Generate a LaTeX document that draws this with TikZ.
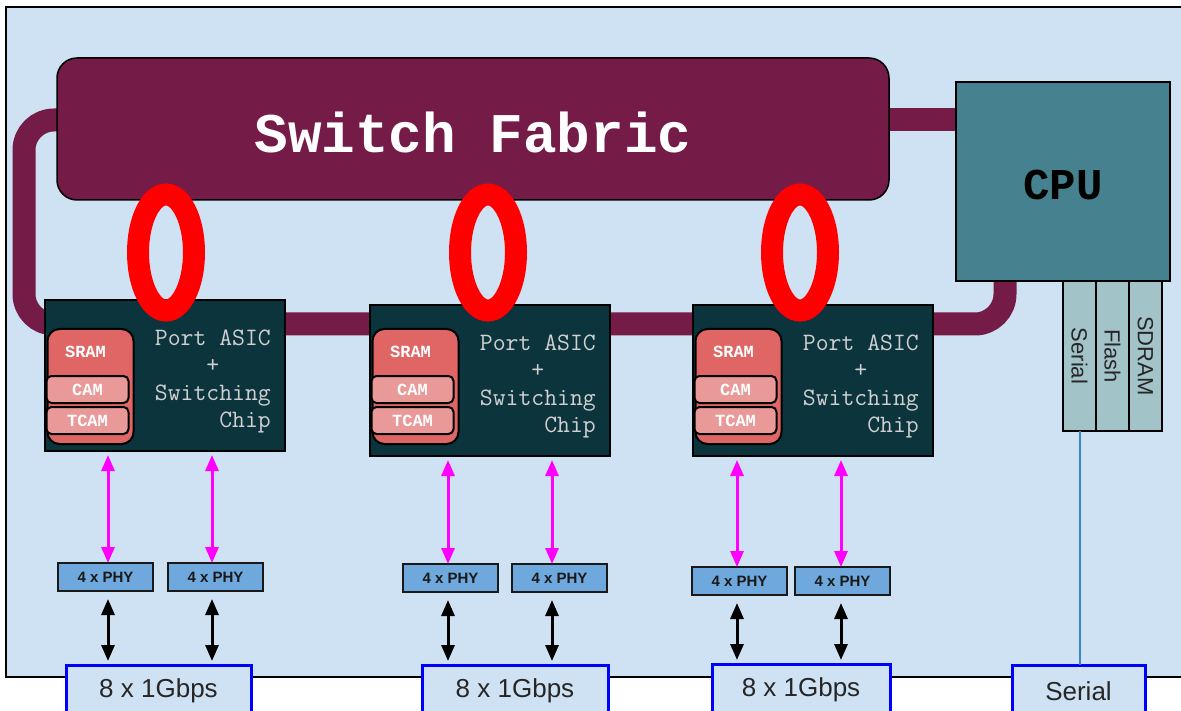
\documentclass[tikz,border=0pt]{standalone}
\usepackage{fontspec}
\setmainfont{Liberation Sans}
\newfontfamily\courfont{Liberation Mono}
\usetikzlibrary{arrows.meta,calc}
\pgfdeclarelayer{bg}
\pgfsetlayers{bg,main}
\definecolor{panelc}{HTML}{CFE2F3}
\definecolor{fabc}{HTML}{741B47}
\definecolor{cpuc}{HTML}{45818E}
\definecolor{asicc}{HTML}{0C343D}
\definecolor{sramc}{HTML}{E06666}
\definecolor{camc}{HTML}{EA9999}
\definecolor{phyc}{HTML}{6FA8DC}
\definecolor{stripc}{HTML}{A2C4C9}
\definecolor{serlc}{HTML}{3D85C6}
\definecolor{asictxtc}{HTML}{D0D0D0}
\definecolor{magc}{HTML}{FF00FF}
\newcommand\mkasic[3]{%
  \node[asicbox] (#1) at (#2,#3) {};
  \node[srambox] (#1m) at (#2+2.5,329) {};
  \node[memtxt] (#1s) at (#2+40.5,352) {SRAM};
  \node[cambox] (#1c) at (#2+1.5,376) {CAM};
  \node[cambox] (#1t) at (#2+1.5,407) {TCAM};
  \node[asictxt] (#1x) at ([xshift=-14pt,yshift=-6pt]#1.east) {Port ASIC\\+\hphantom{Chip}\\Switching\\Chip};
}
\begin{document}
\begin{tikzpicture}[x=1pt,y=-1pt,
  box/.style={inner sep=0pt, outer sep=0pt, anchor=north west},
  fabricbox/.style={box, fill=fabc, draw=black, line width=1.5pt, rounded corners=20pt,
    minimum width=832pt, minimum height=142pt},
  cpubox/.style={box, fill=cpuc, draw=black, line width=2pt, minimum width=214pt, minimum height=199pt},
  asicbox/.style={box, fill=asicc, draw=black, line width=2pt, minimum width=240pt, minimum height=151pt},
  srambox/.style={box, fill=sramc, draw=black, line width=2pt, rounded corners=12pt,
    minimum width=86pt, minimum height=115pt},
  cambox/.style={box, fill=camc, draw=black, line width=2pt, rounded corners=5pt,
    minimum width=82pt, minimum height=27pt, text=white, font=\courfont\bfseries\fontsize{17}{17}\selectfont},
  memtxt/.style={inner sep=0pt, text=white, font=\courfont\bfseries\fontsize{17}{17}\selectfont},
  asictxt/.style={inner sep=0pt, anchor=east, align=right, text=asictxtc,
    font=\ttfamily\fontsize{25}{27.3}\selectfont},
  phybox/.style={box, fill=phyc, draw=black!90, line width=2pt, minimum width=95pt, minimum height=28pt,
    font=\bfseries\fontsize{15}{15}\selectfont, text=black!90},
  portbox/.style={box, fill=panelc, draw=blue, line width=3pt, minimum height=52pt,
    font=\fontsize{26}{26}\selectfont, text=black!85},
  stripbox/.style={box, fill=stripc, draw=black, line width=2pt, minimum width=33pt, minimum height=150pt,
    font=\fontsize{22}{22}\selectfont, text=black!85},
  bus/.style={line width=23pt, draw=fabc, rounded corners=30pt},
  ring/.style={line width=22pt, draw=red},
  marrow/.style={line width=3pt, draw=magc, {Triangle[length=16pt,width=13pt]}-{Triangle[length=16pt,width=13pt]}, shorten <=4pt},
  barrow/.style={line width=3pt, draw=black, {Triangle[length=16pt,width=13pt]}-{Triangle[length=16pt,width=13pt]}, shorten <=8pt, shorten >=4pt},
]
\useasboundingbox (0,0) rectangle (1181,711);
\clip (0,0) rectangle (1181,711);

% main blocks
\node[fabricbox] (fab) at (57,58) {};
\node[font=\courfont\bfseries\fontsize{56}{56}\selectfont, text=white] (fabt) at ([yshift=-3pt]fab.center) {Switch Fabric};
\node[cpubox] (cpu) at (956,82) {};
\node[font=\courfont\bfseries\fontsize{44}{44}\selectfont, text=black] (cput) at ([yshift=-4pt]cpu.center) {CPU};

\node[stripbox] (s1) at (1063,281) {\rotatebox{-90}{Serial}};
\node[stripbox] (s2) at (1096,281) {\rotatebox{-90}{Flash}};
\node[stripbox] (s3) at (1129,281) {\rotatebox{-90}{SDRAM}};

\mkasic{a1}{45}{300}
\mkasic{a2}{370}{305}
\mkasic{a3}{693}{305}

% rings
\draw[ring] (166,252.5) ellipse [x radius=28pt, y radius=58pt];
\draw[ring] (488,252.5) ellipse [x radius=28pt, y radius=58pt];
\draw[ring] (800,252.5) ellipse [x radius=28pt, y radius=58pt];

% PHYs
\node[phybox] (p1a) at (58,563) {4 x PHY};
\node[phybox] (p1b) at (168,563) {4 x PHY};
\node[phybox] (p2a) at (403,564) {4 x PHY};
\node[phybox] (p2b) at (512,564) {4 x PHY};
\node[phybox] (p3a) at (692,567) {4 x PHY};
\node[phybox] (p3b) at (795,567) {4 x PHY};

% external ports
\node[portbox, minimum width=185pt] (b1) at (66,665) {8 x 1Gbps};
\node[portbox, minimum width=186pt] (b2) at (422,665) {8 x 1Gbps};
\node[portbox, minimum width=178pt] (b3) at (712,664) {8 x 1Gbps};
\node[portbox, minimum width=133pt] (sb) at (1012,665) {Serial};

% arrow columns
\coordinate (x1a) at (108,0);
\coordinate (x1b) at (212,0);
\coordinate (x2a) at (448,0);
\coordinate (x2b) at (552,0);
\coordinate (x3a) at (737,0);
\coordinate (x3b) at (841,0);

\foreach \c/\a/\p/\b in {x1a/a1/p1a/b1, x1b/a1/p1b/b1, x2a/a2/p2a/b2, x2b/a2/p2b/b2, x3a/a3/p3a/b3, x3b/a3/p3b/b3}{
  \draw[marrow] (\c |- \a.south) -- (\c |- \p.north);
  \draw[barrow] (\c |- \p.south) -- (\c |- \b.north);
}

\draw[serlc, line width=2pt] (s1.south) -- (s1.south |- sb.north);

% background layer: panel and fabric bus
\coordinate (busY) at (0,120);
\coordinate (busL) at (24,0);
\coordinate (busB) at (0,324);
\coordinate (busR) at (1005,0);
\begin{pgfonlayer}{bg}
  \fill[panelc] (6,7) rectangle (1200,677);
  \draw[black, line width=2pt] (1200,7) -- (6,7) -- (6,677) -- (1200,677);
  \draw[bus] (fab.west |- busY) -- (busL |- busY) -- (busL |- busB) -- (busR |- busB) -- (busR |- cpu.south);
  \draw[bus] (fab.east |- busY) -- (cpu.west |- busY);
\end{pgfonlayer}
\end{tikzpicture}
\end{document}
